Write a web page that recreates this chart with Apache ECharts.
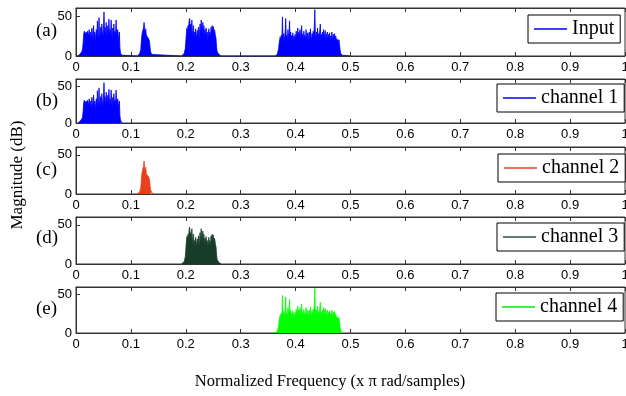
<!DOCTYPE html>
<html>
<head>
<meta charset="utf-8">
<script src="https://cdn.jsdelivr.net/npm/echarts@6/dist/echarts.min.js"></script>
<style>html,body{margin:0;padding:0;background:#fff;}#c{width:626px;height:396px;}</style>
</head>
<body>
<div id="c"></div>
<script>
// ---- data ----
const STEP = 0.001;
const xTicks = [0, 0.1, 0.2, 0.3, 0.4, 0.5, 0.6, 0.7, 0.8, 0.9, 1];
const yTicks = [0, 50];
const panelLabels = ['(a)', '(b)', '(c)', '(d)', '(e)'];
const seriesNames = ['Input', 'channel 1', 'channel 2', 'channel 3', 'channel 4'];
const inputRange = [0, 0.5];

const ch1Start = 0.004;
const ch1 = [0,1,2,2,3,3,4,6,9,16,27,31,29,32,28,30,26,31,28,25,33,24,30,22,27,35,26,20,38,24,30,18,27,33,25,44,22,29,48,21,28,36,26,40,30,24,33,55,28,36,22,42,31,25,38,29,46,24,33,27,45,30,22,35,28,40,26,31,24,45,29,27,33,26,20,30,10,4,2,1,0];

const ch2Start = 0.112;
const ch2 = [0,1,2,2,3,4,8,18,26,30,28,35,42,33,29,34,26,24,27,25,22,24,18,10,5,3,2,1,1,0];

const ch3Start = 0.192;
const ch3 = [0,1,1,2,2,3,5,9,18,28,35,30,38,33,44,47,36,40,28,45,32,25,38,22,30,26,34,20,28,32,24,36,22,30,40,28,45,35,26,42,30,38,22,33,27,35,24,30,20,28,34,25,30,22,36,29,38,31,37,28,33,30,25,22,12,6,4,3,2,2,1,1,0];

const ch4Start = 0.364;
const ch4 = [0,1,2,3,5,9,16,20,24,18,26,22,49,20,28,17,24,30,47,21,26,19,33,24,28,44,22,30,18,26,21,29,17,25,20,27,19,31,24,28,35,22,30,26,33,21,29,38,24,27,20,31,23,26,19,33,25,22,29,18,27,30,21,34,24,20,28,23,31,26,35,58,27,22,30,25,35,21,28,24,32,40,23,27,20,30,25,33,22,28,32,19,26,24,30,21,27,23,29,18,25,22,30,24,20,27,23,28,19,25,22,24,18,21,16,20,14,8,4,2,1,1,0];

const colors = ['#0000ff', '#0000ff', '#e8401c', '#173c2a', '#00ff00'];
const legendLineColors = ['#0000ff', '#0000ff', '#e8401c', '#2e5040', '#00ee00'];

// ---- build ----
function pairs(start, vals) {
  return vals.map((v, i) => [+(start + i * STEP).toFixed(4), v]);
}
const p1 = pairs(ch1Start, ch1), p2 = pairs(ch2Start, ch2), p3 = pairs(ch3Start, ch3), p4 = pairs(ch4Start, ch4);
const inputData = [[inputRange[0], 0]].concat(p1, p2, p3, p4, [[inputRange[1], 0]]);
const allData = [inputData, p1, p2, p3, p4];

const grids = [
  {top: 8, height: 48},
  {top: 79, height: 44},
  {top: 147, height: 47},
  {top: 217, height: 47},
  {top: 287, height: 46}
];
const legendPos = [
  {left: 528, top: 15},
  {left: 497, top: 84},
  {left: 498, top: 154},
  {left: 497, top: 223},
  {left: 496, top: 293}
];
const labelY = [33, 103, 172, 240, 311];

const axisCol = '#333';
const sans = 'Liberation Sans';
const serif = 'Liberation Serif';

const option = {
  backgroundColor: '#fff',
  animation: false,
  grid: grids.map(g => ({left: 76, width: 549, top: g.top, height: g.height, show: true, borderColor: axisCol, borderWidth: 1, backgroundColor: '#fff', containLabel: false, outerBoundsMode: 'none'})),
  xAxis: [],
  yAxis: [],
  series: [],
  legend: [],
  graphic: []
};

grids.forEach((g, i) => {
  option.xAxis.push({
    type: 'value', gridIndex: i, min: 0, max: 1, interval: 0.1, position: 'bottom',
    axisLine: {show: true, onZero: false, lineStyle: {color: axisCol, width: 1}},
    axisTick: {show: true, inside: true, length: 4, lineStyle: {color: axisCol}},
    axisLabel: {show: true, margin: 5, color: '#000', fontFamily: sans, fontSize: 13,
      hideOverlap: false, alignMaxLabel: 'center', alignMinLabel: 'center',
      customValues: xTicks, formatter: v => String(+v.toFixed(1))},
    splitLine: {show: false}
  });
  option.xAxis.push({
    type: 'value', gridIndex: i, min: 0, max: 1, interval: 0.1, position: 'top',
    axisLine: {show: true, onZero: false, lineStyle: {color: axisCol, width: 1}},
    axisTick: {show: true, inside: true, length: 4, lineStyle: {color: axisCol}},
    axisLabel: {show: false},
    splitLine: {show: false}
  });
  option.yAxis.push({
    type: 'value', gridIndex: i, min: 0, max: 60,
    axisLine: {show: true, lineStyle: {color: axisCol, width: 1}},
    axisTick: {show: true, inside: true, length: 4, customValues: yTicks, lineStyle: {color: axisCol}},
    axisLabel: {show: true, margin: 4, color: '#000', fontFamily: sans, fontSize: 13, customValues: yTicks},
    splitLine: {show: false}
  });
  option.series.push({
    name: seriesNames[i], type: 'line', xAxisIndex: i * 2, yAxisIndex: i,
    data: allData[i], showSymbol: false, symbol: 'none', smooth: false,
    lineStyle: {color: colors[i], width: 0.8},
    itemStyle: {color: colors[i]},
    areaStyle: {color: colors[i], opacity: 1},
    z: 2
  });
  option.legend.push({
    data: [{name: seriesNames[i], icon: 'rect', itemStyle: {color: legendLineColors[i], borderWidth: 0, opacity: 1}}],
    left: legendPos[i].left, top: legendPos[i].top,
    backgroundColor: '#fff', borderColor: '#000', borderWidth: 1, borderRadius: 0,
    padding: [4, 6, 4, 6], itemWidth: 33, itemHeight: 1.6,
    itemStyle: {color: legendLineColors[i], borderWidth: 0, opacity: 1},
    textStyle: {fontFamily: serif, fontSize: 20, color: '#000'},
    selectedMode: false
  });
  option.graphic.push({
    type: 'text', left: 36, top: labelY[i] - 11,
    style: {text: panelLabels[i], font: '19px "Liberation Serif"', fill: '#000'}
  });
});

option.graphic.push({
  type: 'text', x: 18, y: 175, rotation: Math.PI / 2,
  style: {text: 'Magnitude (dB)', font: '17px "Liberation Serif"', fill: '#000', align: 'center', verticalAlign: 'middle'}
});
option.graphic.push({
  type: 'text', x: 330, y: 382,
  style: {text: 'Normalized Frequency (x \u03c0 rad/samples)', font: '16.5px "Liberation Serif"', fill: '#000', align: 'center', verticalAlign: 'middle'}
});

const chart = echarts.init(document.getElementById('c'), null, {renderer: 'canvas'});
chart.setOption(option);
</script>
</body>
</html>
